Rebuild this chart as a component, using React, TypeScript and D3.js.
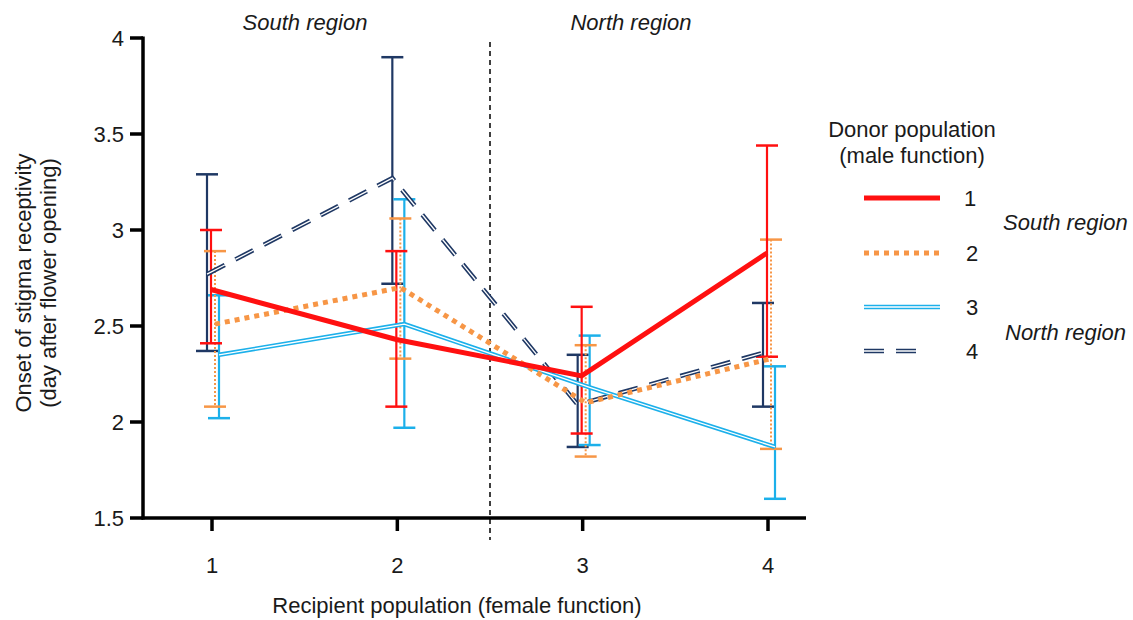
import React from "react"
import * as d3 from "d3"

const categories = [1, 2, 3, 4]
const donors = ["1", "2", "3", "4"]

const mean1 = [2.69, 2.43, 2.24, 2.88]
const upper1 = [3.0, 2.89, 2.6, 3.44]
const lower1 = [2.41, 2.08, 1.94, 2.34]

const mean2 = [2.51, 2.7, 2.1, 2.33]
const upper2 = [2.89, 3.06, 2.4, 2.95]
const lower2 = [2.08, 2.33, 1.82, 1.86]

const mean3 = [2.35, 2.51, 2.18, 1.87]
const upper3 = [2.66, 3.16, 2.45, 2.29]
const lower3 = [2.02, 1.97, 1.88, 1.6]

const mean4 = [2.77, 3.27, 2.09, 2.36]
const upper4 = [3.29, 3.9, 2.35, 2.62]
const lower4 = [2.37, 2.72, 1.87, 2.08]

const yTicks = [1.5, 2, 2.5, 3, 3.5, 4]

const RED = "#ff1010"
const ORANGE = "#f79646"
const CYAN = "#1cb0ea"
const NAVY = "#1f3864"
const FONT = "'Liberation Sans', Arial, sans-serif"
const FS = 22
const TXT = "#1a1a1a"

const series = [
  { name: donors[3], mean: mean4, upper: upper4, lower: lower4, color: NAVY, dx: -5 },
  { name: donors[2], mean: mean3, upper: upper3, lower: lower3, color: CYAN, dx: 7 },
  { name: donors[1], mean: mean2, upper: upper2, lower: lower2, color: ORANGE, dx: 3 },
  { name: donors[0], mean: mean1, upper: upper1, lower: lower1, color: RED, dx: -1 },
]

// line look per donor
const Stroke = ({ d, name, color }: { d: string; name: string; color: string }) => {
  if (name === "1") return <path d={d} fill="none" stroke={color} strokeWidth={5} />
  if (name === "2")
    return <path d={d} fill="none" stroke={color} strokeWidth={5} strokeDasharray="5,5" />
  if (name === "3")
    return (
      <g>
        <path d={d} fill="none" stroke={color} strokeWidth={4.5} />
        <path d={d} fill="none" stroke="#fff" strokeWidth={1.3} />
      </g>
    )
  return (
    <g>
      <path d={d} fill="none" stroke={color} strokeWidth={4.5} strokeDasharray="20,12" />
      <path d={d} fill="none" stroke="#fff" strokeWidth={1.3} strokeDasharray="20,12" />
    </g>
  )
}

export default function App() {
  const W = 1133
  const H = 620
  const x = d3.scalePoint<number>().domain(categories).range([212, 768])
  const y = d3.scaleLinear().domain([1.5, 4]).range([518, 38])
  const xAxisEnd = 806
  const divider = (x(2)! + x(3)!) / 2

  const legendY = [198, 253, 307, 351]
  const legendOrder = ["1", "2", "3", "4"]

  return (
    <svg width={W} height={H} style={{ position: "absolute", left: 0, top: 0, background: "#fff" }} fontFamily={FONT}>
      {/* region labels */}
      <text x={305} y={30} fontSize={FS} fontStyle="italic" textAnchor="middle" fill={TXT}>South region</text>
      <text x={631} y={30} fontSize={FS} fontStyle="italic" textAnchor="middle" fill={TXT}>North region</text>
      <line x1={divider} x2={divider} y1={42} y2={540} stroke="#000" strokeWidth={1.5} strokeDasharray="5,4" />

      {/* error bars */}
      {series.map(s => (
        <g key={"eb" + s.name}>
          {categories.map((c, i) => {
            const cx = x(c)! + s.dx
            return (
              <g key={i}>
                <line
                  x1={cx}
                  x2={cx}
                  y1={y(s.upper[i])}
                  y2={y(s.lower[i])}
                  stroke={s.color}
                  strokeWidth={s.name === "2" ? 2 : 2.2}
                  strokeDasharray={s.name === "2" ? "2,2" : undefined}
                />
                <line x1={cx - 11} x2={cx + 11} y1={y(s.upper[i])} y2={y(s.upper[i])} stroke={s.color} strokeWidth={2.5} />
                <line x1={cx - 11} x2={cx + 11} y1={y(s.lower[i])} y2={y(s.lower[i])} stroke={s.color} strokeWidth={2.5} />
              </g>
            )
          })}
        </g>
      ))}

      {/* mean lines */}
      {series.map(s => {
        const d = d3
          .line<number>()
          .x(c => x(c)! + s.dx)
          .y((c, i) => y(s.mean[i]))(categories)!
        return <Stroke key={"ln" + s.name} d={d} name={s.name} color={s.color} />
      })}

      {/* y axis */}
      <line x1={143} x2={143} y1={y(4) - 1.5} y2={y(1.5) + 1.5} stroke="#000" strokeWidth={3.5} />
      {yTicks.map(t => (
        <g key={t}>
          <line x1={130} x2={143} y1={y(t)} y2={y(t)} stroke="#000" strokeWidth={3.5} />
          <text x={124} y={y(t) + 8} fontSize={FS} textAnchor="end" fill={TXT}>{t}</text>
        </g>
      ))}

      {/* x axis */}
      <line x1={141.5} x2={xAxisEnd} y1={y(1.5)} y2={y(1.5)} stroke="#000" strokeWidth={3.5} />
      {categories.map(c => (
        <g key={c}>
          <line x1={x(c)} x2={x(c)} y1={y(1.5)} y2={y(1.5) + 13} stroke="#000" strokeWidth={3.5} />
          <text x={x(c)} y={573} fontSize={FS} textAnchor="middle" fill={TXT}>{c}</text>
        </g>
      ))}
      <text x={457} y={613} fontSize={FS} textAnchor="middle" fill={TXT}>Recipient population (female function)</text>

      {/* y title */}
      <g transform="translate(31,283) rotate(-90)">
        <text x={0} y={0} fontSize={FS} textAnchor="middle" fill={TXT}>Onset of stigma receptivity</text>
        <text x={0} y={25} fontSize={FS} textAnchor="middle" fill={TXT}>(day after flower opening)</text>
      </g>

      {/* legend */}
      <text x={912} y={137} fontSize={FS} textAnchor="middle" fill={TXT}>Donor population</text>
      <text x={912} y={163} fontSize={FS} textAnchor="middle" fill={TXT}>(male function)</text>
      {legendOrder.map((n, i) => {
        const s = series.find(z => z.name === n)!
        const ly = legendY[i]
        const d = n === "4" ? `M864,${ly}L928,${ly}` : `M864,${ly}L940,${ly}`
        return (
          <g key={"lg" + n}>
            <Stroke d={d} name={n} color={s.color} />
            <text x={i === 0 ? 964 : 966} y={ly + 8} fontSize={FS} fill={TXT}>{n}</text>
          </g>
        )
      })}
      <text x={1003} y={230} fontSize={FS} fontStyle="italic" fill={TXT}>South region</text>
      <text x={1005} y={340} fontSize={FS} fontStyle="italic" fill={TXT}>North region</text>
    </svg>
  )
}
